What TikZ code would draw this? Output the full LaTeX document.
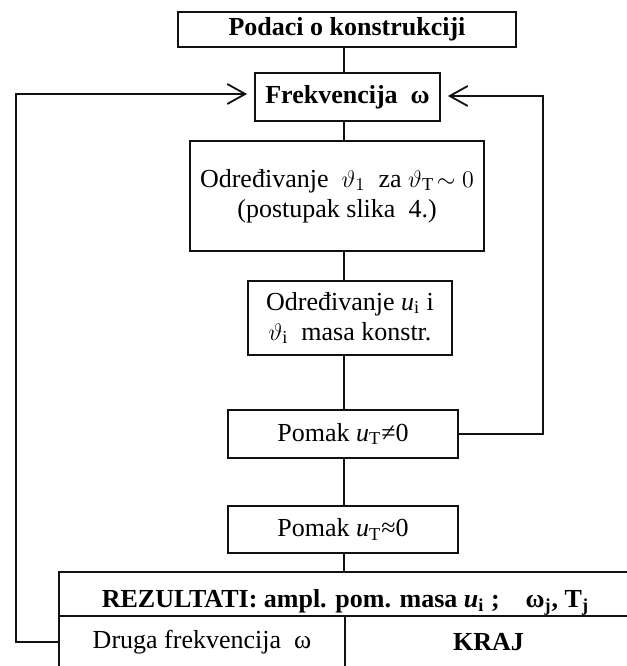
\documentclass[tikz,border=0pt]{standalone}
\usepackage{fontspec}
\setmainfont{Liberation Serif}
\usetikzlibrary{arrows.meta}
\tikzset{
  blok/.style={draw=ink,line width=0.9pt,inner sep=0pt,align=center,
    font=\fontsize{13}{15}\selectfont},
  veza/.style={draw=ink,line width=0.9pt},
  povrat/.style={draw=ink,line width=0.9pt,-{Straight Barb[length=9pt,width=10pt,line width=0.9pt]},shorten >=3.5pt},
}
\begin{document}
\begin{tikzpicture}[x=0.5pt,y=0.5pt]
\definecolor{ink}{HTML}{111111}
\useasboundingbox (0,0) rectangle (627,666);
\clip (0,0) rectangle (627,666);
\node[blok,minimum width=169pt,minimum height=17.5pt] (podaci) at (347,636.5) {\bfseries Podaci o konstrukciji};
\node[blok,minimum width=92.5pt,minimum height=24pt] (frek) at (347.5,569) {\bfseries Frekvencija\ \ ω};
\node[blok,minimum width=147pt,minimum height=55pt] (odr1) at (337,470) {Određivanje\ \ $\vartheta_1$\ \ za $\vartheta_{\mathrm{T}}\!\sim 0$\\(postupak slika\ \ 4.)};
\node[blok,minimum width=102pt,minimum height=37pt] (odr2) at (350,348) {Određivanje \textit{u}\textsubscript{i} i\\$\vartheta_{\mathrm{i}}$\ \ masa konstr.};
\node[blok,minimum width=115pt,minimum height=24pt] (pomak1) at (343,232) {Pomak \textit{u}\textsubscript{T}≠0};
\node[blok,minimum width=115pt,minimum height=23.5pt] (pomak2) at (343,136.5) {Pomak \textit{u}\textsubscript{T}≈0};
% rezultati
\node[blok,minimum width=286.5pt,minimum height=22pt,text height=13pt,text depth=0pt] (rez) at (345.5,72) {\bfseries REZULTATI: ampl. pom. masa \textit{u}\textsubscript{i} ;\quad ω\textsubscript{j}, T\textsubscript{j}};
\node[blok,minimum width=143pt,minimum height=26pt] (druga) at (202,24) {Druga frekvencija\ \ ω};
\node[blok,minimum width=143.5pt,minimum height=26pt] (kraj) at (488.5,24) {\bfseries KRAJ};
% spine
\coordinate (spine) at (344,0);
\draw[veza] (spine |- podaci.south) -- (spine |- frek.north);
\draw[veza] (spine |- frek.south) -- (spine |- odr1.north);
\draw[veza] (spine |- odr1.south) -- (spine |- odr2.north);
\draw[veza] (spine |- odr2.south) -- (spine |- pomak1.north);
\draw[veza] (spine |- pomak1.south) -- (spine |- pomak2.north);
\draw[veza] (spine |- pomak2.south) -- (spine |- rez.north);
% petlje
\coordinate (lpetlja) at (16,572);
\coordinate (dpetlja) at (543,570);
\draw[povrat] (druga.west) -| (lpetlja) -- (lpetlja -| frek.west);
\draw[povrat] (pomak1.east) -| (dpetlja) -- (dpetlja -| frek.east);
\end{tikzpicture}
\end{document}
